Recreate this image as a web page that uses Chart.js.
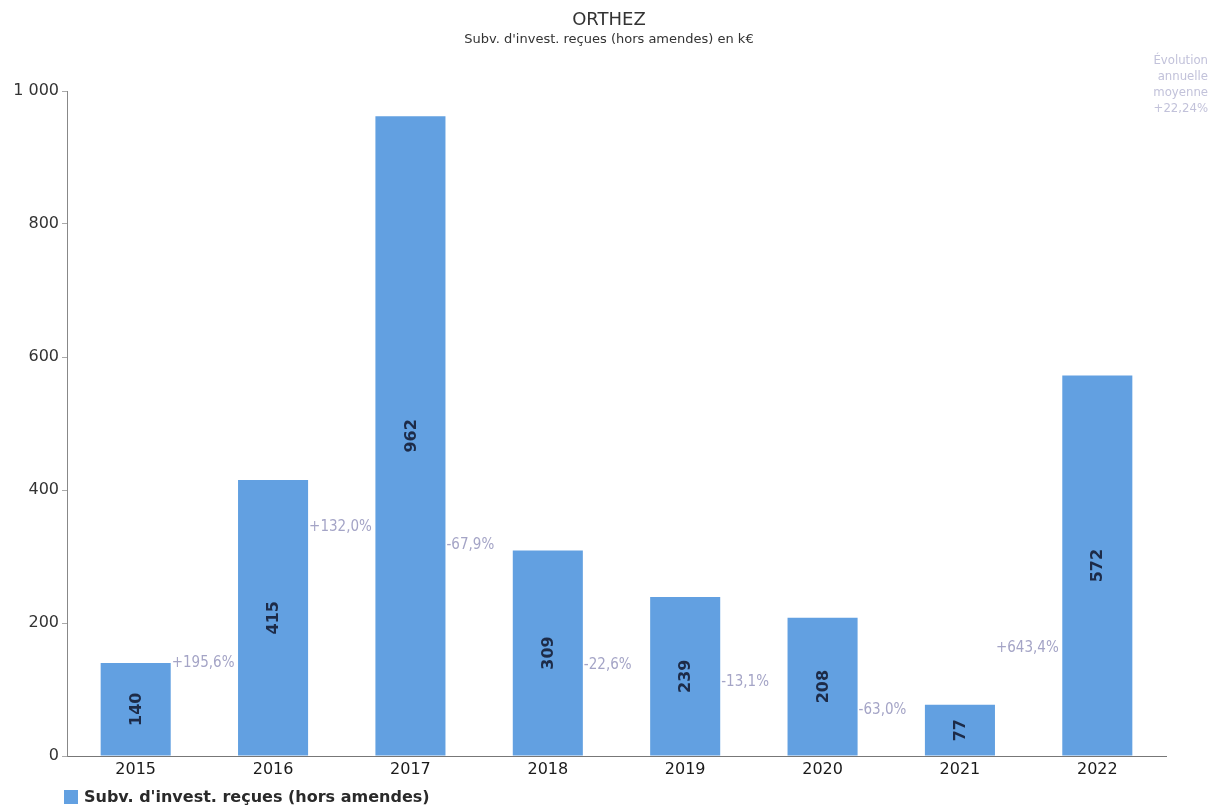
<!DOCTYPE html>
<html>
<head>
<meta charset="utf-8">
<script src="https://cdn.jsdelivr.net/npm/chart.js@4.4.1/dist/chart.umd.min.js"></script>
<style>
html,body{margin:0;padding:0;background:#fff;}
#wrap{width:1219px;height:809px;position:relative;}
</style>
</head>
<body>
<div id="wrap"><canvas id="c" width="1219" height="809"></canvas></div>
<script>
const categories = ['2015', '2016', '2017', '2018', '2019', '2020', '2021', '2022'];
const values = [140, 415, 962, 309, 239, 208, 77, 572];
const changeLabels = ['+195,6%', '+132,0%', '-67,9%', '-22,6%', '-13,1%', '-63,0%', '+643,4%'];
const yTickValues = [0, 200, 400, 600, 800, 1000];
const yTickLabels = ['0', '200', '400', '600', '800', '1 000'];
const titleText = 'ORTHEZ';
const subtitleText = "Subv. d'invest. reçues (hors amendes) en k€";
const seriesName = "Subv. d'invest. reçues (hors amendes)";
const noteLines = ['Évolution', 'annuelle', 'moyenne', '+22,24%'];

const BAR = '#62a0e1';

const extras = {
  id: 'extras',
  beforeDatasetsDraw(chart, args, opts) {
    const ctx = chart.ctx;
    const meta = chart.getDatasetMeta(0);
    const ys = chart.scales.y;
    ctx.save();
    ctx.fillStyle = '#a4a4c6';
    ctx.font = '15px "DejaVu Sans Condensed", "DejaVu Sans"';
    ctx.textAlign = 'left';
    ctx.textBaseline = 'middle';
    changeLabels.forEach((t, i) => {
      const b = meta.data[i];
      const x = b.x + b.width / 2 + 1;
      const y = ys.getPixelForValue(opts.levels[i]);
      ctx.fillText(t, x, y);
    });
    ctx.restore();
  },
  afterDatasetsDraw(chart, args, opts) {
    const ctx = chart.ctx;
    const meta = chart.getDatasetMeta(0);
    ctx.save();
    ctx.fillStyle = '#1d2b48';
    ctx.font = 'bold 16px "DejaVu Sans"';
    ctx.textAlign = 'center';
    ctx.textBaseline = 'middle';
    meta.data.forEach((b, i) => {
      const cy = (b.y + b.base) / 2;
      ctx.save();
      ctx.translate(b.x, cy);
      ctx.rotate(-Math.PI / 2);
      ctx.fillText(String(values[i]), 0, 1);
      ctx.restore();
    });
    ctx.restore();
  },
  afterDraw(chart) {
    const ctx = chart.ctx;
    ctx.save();
    // title
    ctx.textAlign = 'center';
    ctx.textBaseline = 'middle';
    ctx.fillStyle = '#333';
    ctx.font = '18px "DejaVu Sans"';
    ctx.fillText(titleText, 609, 20);
    ctx.font = '13px "DejaVu Sans"';
    ctx.fillText(subtitleText, 609, 40);
    // note
    ctx.textAlign = 'right';
    ctx.fillStyle = '#c2c2da';
    ctx.font = '13px "DejaVu Sans Condensed", "DejaVu Sans"';
    noteLines.forEach((t, i) => ctx.fillText(t, 1208, 61 + i * 16));
    // legend
    ctx.fillStyle = BAR;
    ctx.fillRect(64, 790, 14, 14);
    ctx.fillStyle = '#2a2a2a';
    ctx.textAlign = 'left';
    ctx.font = 'bold 16px "DejaVu Sans"';
    ctx.fillText(seriesName, 84, 798);
    ctx.restore();
  }
};

new Chart(document.getElementById('c'), {
  type: 'bar',
  data: {
    labels: categories,
    datasets: [{
      label: seriesName,
      data: values,
      backgroundColor: BAR,
      borderWidth: 0,
      barPercentage: 1,
      categoryPercentage: 0.51
    }]
  },
  options: {
    responsive: false,
    animation: false,
    layout: { padding: { top: 91, right: 53, bottom: 0, left: 0 } },
    plugins: {
      legend: { display: false },
      title: { display: false },
      tooltip: { enabled: false },
      extras: { levels: [140, 344, 317, 137, 111, 69, 162] }
    },
    scales: {
      x: {
        grid: { display: false, drawTicks: false },
        border: { display: true, color: '#777', width: 1 },
        ticks: { color: '#1a1a1a', font: { family: 'DejaVu Sans', size: 16 }, padding: 4 },
        afterFit(s) { s.height = 53; }
      },
      y: {
        min: 0, max: 1000,
        afterBuildTicks(s) { s.ticks = yTickValues.map(v => ({ value: v })); },
        grid: { display: true, drawOnChartArea: false, drawTicks: true, tickLength: 5, color: '#aaa' },
        border: { display: true, color: '#888', width: 1 },
        ticks: {
          color: '#333', font: { family: 'DejaVu Sans', size: 16 }, padding: 3,
          callback: (v) => yTickLabels[yTickValues.indexOf(v)]
        },
        afterFit(s) { s.width = 67; }
      }
    }
  },
  plugins: [extras]
});
</script>
</body>
</html>
